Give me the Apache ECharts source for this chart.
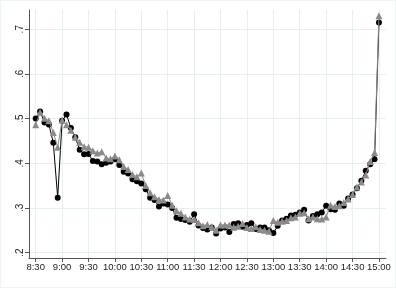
<!DOCTYPE html>
<html>
<head>
<meta charset="utf-8">
<script src="https://cdn.jsdelivr.net/npm/echarts@6/dist/echarts.min.js"></script>
<style>html,body{margin:0;padding:0;background:#fff}#c{width:396px;height:288px}</style>
</head>
<body>
<div id="c"></div>
<script>
// minutes since midnight for the first observation and the step between observations
const startMinute = 510; // 8:30
const stepMinutes = 5;
const xTicks = [510, 540, 570, 600, 630, 660, 690, 720, 750, 780, 810, 840, 870, 900];
const yTicks = [0.2, 0.3, 0.4, 0.5, 0.6, 0.7];
const blackSeries = [
  0.500, 0.516, 0.491, 0.487, 0.446, 0.323, 0.495, 0.509, 0.479, 0.458,
  0.430, 0.420, 0.421, 0.405, 0.404, 0.398, 0.401, 0.404, 0.409, 0.396,
  0.381, 0.377, 0.364, 0.360, 0.355, 0.342, 0.323, 0.318, 0.303, 0.310,
  0.308, 0.300, 0.278, 0.275, 0.273, 0.269, 0.286, 0.261, 0.255, 0.252,
  0.256, 0.243, 0.254, 0.256, 0.246, 0.264, 0.266, 0.258, 0.262, 0.266,
  0.253, 0.256, 0.256, 0.250, 0.244, 0.260, 0.272, 0.276, 0.283, 0.285,
  0.290, 0.296, 0.272, 0.282, 0.286, 0.290, 0.305, 0.297, 0.296, 0.310,
  0.305, 0.321, 0.330, 0.344, 0.361, 0.383, 0.398, 0.409, 0.715
];
const graySeries = [
  0.486, 0.514, 0.501, 0.495, 0.469, 0.436, 0.497, 0.486, 0.474, 0.458,
  0.447, 0.437, 0.436, 0.428, 0.423, 0.426, 0.412, 0.410, 0.416, 0.408,
  0.393, 0.386, 0.375, 0.370, 0.378, 0.350, 0.334, 0.325, 0.319, 0.318,
  0.328, 0.306, 0.294, 0.288, 0.280, 0.275, 0.274, 0.267, 0.260, 0.263,
  0.258, 0.250, 0.262, 0.262, 0.262, 0.257, 0.259, 0.265, 0.256, 0.254,
  0.258, 0.252, 0.250, 0.248, 0.272, 0.268, 0.270, 0.272, 0.278, 0.280,
  0.288, 0.289, 0.276, 0.280, 0.276, 0.275, 0.280, 0.306, 0.303, 0.305,
  0.312, 0.320, 0.330, 0.347, 0.358, 0.374, 0.404, 0.424, 0.730
];

const toPairs = arr => arr.map((v, i) => [startMinute + i * stepMinutes, v]);
const fmtTime = m => Math.floor(m / 60) + ':' + String(m % 60).padStart(2, '0');
const fontFam = '"Liberation Sans", Arial, sans-serif';

const chart = echarts.init(document.getElementById('c'), null, {renderer: 'canvas'});
chart.setOption({
  animation: false,
  backgroundColor: '#ffffff',
  graphic: [{
    type: 'rect', shape: {x: 0.5, y: 0.5, width: 395, height: 287},
    style: {fill: 'none', stroke: '#eef3f3', lineWidth: 1}, silent: true, z: -10
  }],
  grid: {left: 29, right: 10, top: 10, bottom: 30, containLabel: false},
  xAxis: {
    type: 'value', min: 502.4, max: 908,
    axisLine: {show: true, lineStyle: {color: '#555', width: 1}},
    axisTick: {show: true, length: 4, customValues: xTicks, lineStyle: {color: '#555'}},
    axisLabel: {customValues: xTicks, formatter: v => fmtTime(v), color: '#222',
      fontSize: 9.5, fontFamily: fontFam, margin: 4, hideOverlap: false},
    splitLine: {show: true, lineStyle: {color: '#e8efef', width: 1}}
  },
  yAxis: {
    type: 'value', min: 0.188, max: 0.743,
    axisLine: {show: true, lineStyle: {color: '#555', width: 1}},
    axisTick: {show: true, length: 4, customValues: yTicks, lineStyle: {color: '#555'}},
    axisLabel: {customValues: yTicks, formatter: v => '.' + Math.round(v * 10),
      rotate: 90, color: '#222', fontSize: 10, fontFamily: fontFam, margin: 4},
    splitLine: {show: true, lineStyle: {color: '#e8efef', width: 1}}
  },
  series: [
    {
      type: 'line', data: toPairs(blackSeries), symbol: 'circle', symbolSize: 6,
      lineStyle: {color: '#000', width: 1}, itemStyle: {color: '#000'}, z: 2
    },
    {
      type: 'line', data: toPairs(graySeries), symbol: 'triangle', symbolSize: 7,
      lineStyle: {color: '#8a8a8a', width: 1}, itemStyle: {color: '#8a8a8a'}, z: 3
    }
  ]
});
</script>
</body>
</html>
